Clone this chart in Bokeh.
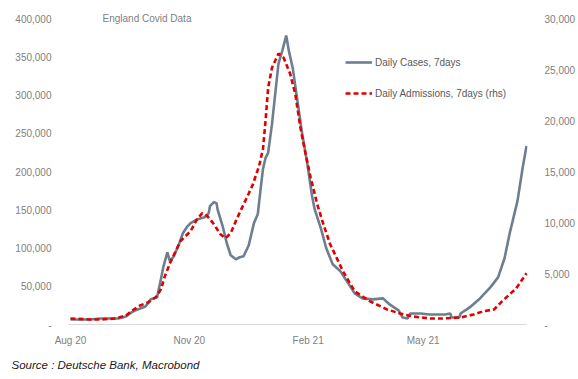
import pandas as pd
from bokeh.plotting import figure
from bokeh.models import (Range1d, LinearAxis, FixedTicker, Legend, LegendItem,
                          Label, Title)
from bokeh.embed import file_html
from bokeh.resources import INLINE

# ---- data ----
case_dates = ["2020-08-01", "2020-08-16", "2020-08-24", "2020-09-01", "2020-09-07", "2020-09-13",
              "2020-09-16", "2020-09-20", "2020-09-24", "2020-09-28", "2020-09-30", "2020-10-02",
              "2020-10-06", "2020-10-07", "2020-10-08", "2020-10-10", "2020-10-12", "2020-10-15",
              "2020-10-17", "2020-10-20", "2020-10-24", "2020-10-27", "2020-10-30", "2020-11-02",
              "2020-11-06", "2020-11-10", "2020-11-13", "2020-11-16", "2020-11-17", "2020-11-20",
              "2020-11-22", "2020-11-23", "2020-11-27", "2020-11-30", "2020-12-03", "2020-12-07",
              "2020-12-10", "2020-12-13", "2020-12-17", "2020-12-21", "2020-12-24", "2020-12-26",
              "2020-12-28", "2020-12-30", "2021-01-01", "2021-01-04", "2021-01-07", "2021-01-09",
              "2021-01-12", "2021-01-15", "2021-01-17", "2021-01-20", "2021-01-24", "2021-01-27",
              "2021-01-31", "2021-02-04", "2021-02-06", "2021-02-11", "2021-02-15", "2021-02-20",
              "2021-02-26", "2021-03-03", "2021-03-09", "2021-03-15", "2021-03-23", "2021-03-31",
              "2021-04-05", "2021-04-12", "2021-04-15", "2021-04-19", "2021-04-21", "2021-04-29",
              "2021-05-06", "2021-05-18", "2021-05-22", "2021-05-23", "2021-05-29", "2021-05-30",
              "2021-06-06", "2021-06-14", "2021-06-22", "2021-06-28", "2021-07-03", "2021-07-07",
              "2021-07-13", "2021-07-17", "2021-07-20"]
daily_cases = [6600, 6600, 7900, 7900, 7900, 10500,
               14400, 18400, 21000, 23600, 27500, 32800,
               35400, 35400, 43300, 59000, 76000, 94400,
               82600, 89200, 104900, 119300, 127200, 132500,
               136400, 139000, 140300, 145600, 154800, 160000,
               158700, 149500, 127200, 106200, 90500, 85200,
               87900, 89200, 103600, 132500, 144300, 174400,
               203300, 217700, 224300, 262300, 309500, 341000,
               358000, 377700, 358000, 335700, 288500, 253100,
               213800, 167900, 150800, 124600, 99700, 78700,
               69500, 56400, 40700, 34100, 32800, 34100,
               26200, 18400, 9200, 7900, 14400, 14400,
               13100, 13100, 14400, 9200, 9200, 14400,
               22300, 34100, 48500, 61600, 86600, 119300,
               161300, 204600, 233400]

adm_dates = ["2020-08-01", "2020-08-16", "2020-08-24", "2020-09-05", "2020-09-13", "2020-09-18",
             "2020-09-24", "2020-09-30", "2020-10-06", "2020-10-10", "2020-10-13", "2020-10-17",
             "2020-10-21", "2020-10-25", "2020-11-02", "2020-11-07", "2020-11-11", "2020-11-15",
             "2020-11-20", "2020-11-25", "2020-11-29", "2020-12-03", "2020-12-08", "2020-12-15",
             "2020-12-20", "2020-12-25", "2020-12-28", "2020-12-30", "2021-01-01", "2021-01-04",
             "2021-01-09", "2021-01-13", "2021-01-18", "2021-01-22", "2021-01-26", "2021-01-30",
             "2021-02-03", "2021-02-08", "2021-02-12", "2021-02-18", "2021-02-28", "2021-03-09",
             "2021-03-21", "2021-04-03", "2021-04-13", "2021-04-23", "2021-05-06", "2021-05-16",
             "2021-05-30", "2021-06-09", "2021-06-16", "2021-06-25", "2021-07-01", "2021-07-12",
             "2021-07-20"]
daily_admissions = [590, 490, 490, 590, 890, 1380,
                    1870, 2160, 2660, 3440, 4720, 6000,
                    7080, 8160, 9150, 10330, 10920, 10620,
                    9840, 8850, 8460, 8950, 10430, 12300,
                    13670, 15540, 17210, 19970, 23210, 25180,
                    26560, 26160, 24590, 22620, 19280, 16720,
                    14360, 11800, 10130, 7870, 5210, 3250,
                    2260, 1480, 1080, 790, 590, 590,
                    690, 980, 1280, 1480, 2260, 3540,
                    5020]

left_ticks = [0, 50000, 100000, 150000, 200000, 250000, 300000, 350000, 400000]
right_ticks = [0, 5000, 10000, 15000, 20000, 25000, 30000]
x_tick_dates = ["2020-08-01", "2020-11-01", "2021-02-01", "2021-05-01"]
x_tick_labels = ["Aug 20", "Nov 20", "Feb 21", "May 21"]

title_text = "England Covid Data"
source_text = "Source : Deutsche Bank, Macrobond"
cases_label = "Daily Cases, 7days"
adm_label = "Daily Admissions, 7days (rhs)"

# ---- styling ----
GRAY = "#6e7e8e"
RED = "#e00000"
TICK_COL = "#808080"
FONT = "Liberation Sans"

cd = pd.to_datetime(case_dates)
ad = pd.to_datetime(adm_dates)
xt = pd.to_datetime(x_tick_dates)
xt_ms = [int(t.value // 10**6) for t in xt]

# layout (pixels): frame 48..528 horizontally, 10..326 vertically;
# value 0 sits 2 px above the frame bottom, top tick 8 px below frame top
FRAME_H = 316.0
SPAN_H = 306.0
lo_f = -2 / SPAN_H
hi_f = 1 + 8 / SPAN_H
PX_PER_DAY = 1.293

x_start = cd[0] - pd.Timedelta(days=22 / PX_PER_DAY)
x_end = cd[-1] + pd.Timedelta(days=1 / PX_PER_DAY)

p = figure(width=578, height=379, x_axis_type="datetime",
           output_backend="svg", toolbar_location=None,
           min_border_left=48, min_border_right=50, min_border_top=10,
           min_border_bottom=53)
p.x_range = Range1d(x_start, x_end)
p.y_range = Range1d(left_ticks[-1] * lo_f, left_ticks[-1] * hi_f)
p.extra_y_ranges = {"rhs": Range1d(right_ticks[-1] * lo_f, right_ticks[-1] * hi_f)}
p.outline_line_color = None
p.grid.visible = False
p.background_fill_color = "white"
p.border_fill_color = "white"

# baseline drawn under the data span
p.segment(x0=[cd[0] - pd.Timedelta(days=1.5)], y0=[0], x1=[cd[-1]], y1=[0],
          line_color="#d9d9d9", line_width=1)

r1 = p.line(cd, daily_cases, line_color=GRAY, line_width=2.6)
r2 = p.line(ad, daily_admissions, line_color=RED, line_width=2.6,
            line_dash="5 3", y_range_name="rhs")

# x axis
xa = p.xaxis[0]
xa.ticker = FixedTicker(ticks=xt_ms)
xa.major_label_overrides = {m: l for m, l in zip(xt_ms, x_tick_labels)}
xa.axis_line_color = None
xa.major_tick_line_color = None
xa.minor_tick_line_color = None
xa.major_label_text_color = TICK_COL
xa.major_label_text_font = FONT
xa.major_label_text_font_size = "10px"
xa.major_label_standoff = 2

# left axis
ya = p.yaxis[0]
ya.ticker = FixedTicker(ticks=left_ticks)
ya.major_label_overrides = {t: ("-" if t == 0 else f"{t:,}") for t in left_ticks}
ya.axis_line_color = None
ya.major_tick_line_color = None
ya.minor_tick_line_color = None
ya.major_label_text_color = TICK_COL
ya.major_label_text_font = FONT
ya.major_label_text_font_size = "10px"
ya.major_label_standoff = -9

# right axis
ra = LinearAxis(y_range_name="rhs", ticker=FixedTicker(ticks=right_ticks))
ra.major_label_overrides = {t: ("-" if t == 0 else f"{t:,}") for t in right_ticks}
ra.axis_line_color = None
ra.major_tick_line_color = None
ra.minor_tick_line_color = None
ra.major_label_text_color = TICK_COL
ra.major_label_text_font = FONT
ra.major_label_text_font_size = "10px"
ra.major_label_standoff = 11
p.add_layout(ra, "right")

legend = Legend(items=[LegendItem(label=cases_label, renderers=[r1]),
                       LegendItem(label=adm_label, renderers=[r2])],
                location=(297, 223), glyph_width=27, glyph_height=20,
                label_height=20, spacing=11, padding=0, margin=0,
                label_standoff=3, border_line_alpha=0, background_fill_alpha=0,
                label_text_font=FONT, label_text_font_size="10px",
                label_text_color="#595959")
p.add_layout(legend, "center")

p.add_layout(Label(x=54, y=308, x_units="screen", y_units="screen", text=title_text,
                   text_font=FONT, text_font_size="10px", text_color=TICK_COL,
                   text_baseline="middle"))

src = Title(text=source_text, align="left", offset=-37, standoff=16,
            text_font=FONT, text_font_size="11.5px", text_font_style="italic",
            text_color="#1a1a1a")
p.add_layout(src, "below")

open("out.html", "w").write(file_html(p, INLINE))
